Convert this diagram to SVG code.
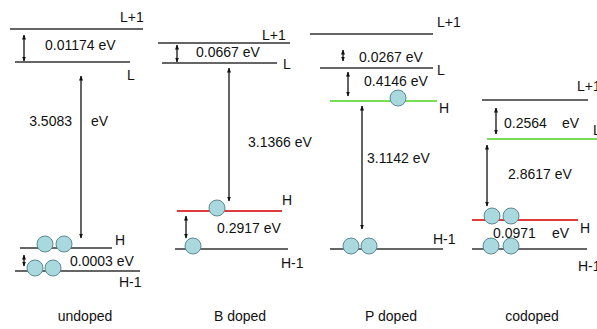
<svg xmlns="http://www.w3.org/2000/svg" width="597" height="329" viewBox="0 0 597 329">
<style>
text{font-family:"Liberation Sans",Arial,sans-serif;font-size:14px;fill:#111}
.lv{stroke:#333;stroke-width:1.6}
.red{stroke:#e03a3a;stroke-width:2}
.grn{stroke:#77dd55;stroke-width:2.2}
.ar{stroke:#111;stroke-width:1.3;fill:none;marker-start:url(#ah);marker-end:url(#ah)}
.e{fill:#a9d9de;stroke:#5b8a93;stroke-width:1}
</style>
<defs>
<marker id="ah" viewBox="0 0 10 10" refX="9" refY="5" markerWidth="5" markerHeight="5" markerUnits="userSpaceOnUse" orient="auto-start-reverse">
<path d="M0,1 L10,5 L0,9 z" fill="#111"/>
</marker>
</defs>
<rect width="597" height="329" fill="#fff"/>
<g id="connectors">
<line class="ar" x1="24" y1="35" x2="24" y2="61"/>
<line class="ar" x1="81" y1="76" x2="81" y2="238"/>
<line class="ar" x1="24" y1="255" x2="24" y2="266"/>
<line class="ar" x1="177" y1="45" x2="177" y2="62"/>
<line class="ar" x1="229" y1="68" x2="229" y2="201"/>
<line class="ar" x1="186" y1="216" x2="186" y2="238"/>
<line class="ar" x1="343" y1="50" x2="343" y2="61"/>
<line class="ar" x1="348" y1="72" x2="348" y2="96"/>
<line class="ar" x1="362" y1="106" x2="362" y2="229"/>
<line class="ar" x1="496" y1="108" x2="496" y2="134"/>
<line class="ar" x1="487" y1="145" x2="487" y2="206"/>
</g>
<g id="undoped">
<line class="lv" x1="10" y1="29" x2="143" y2="29"/>
<text x="120" y="22">L+1</text>
<text x="45" y="50">0.01174 eV</text>
<line class="lv" x1="15" y1="62" x2="130" y2="62"/>
<text x="127" y="80">L</text>
<text x="72" y="126" text-anchor="end">3.5083</text>
<text x="91" y="126">eV</text>
<line class="lv" x1="20" y1="248" x2="112" y2="248"/>
<circle class="e" cx="45" cy="244" r="8"/>
<circle class="e" cx="64" cy="244" r="8"/>
<text x="115" y="245">H</text>
<line class="lv" x1="15" y1="271" x2="140" y2="271"/>
<circle class="e" cx="35" cy="268" r="8"/>
<circle class="e" cx="53" cy="268" r="8"/>
<text x="70" y="266">0.0003 eV</text>
<text x="119" y="287">H-1</text>
<text x="85" y="321" text-anchor="middle">undoped</text>
</g>
<g id="b-doped">
<line class="lv" x1="158" y1="43" x2="290" y2="43"/>
<text x="262" y="40">L+1</text>
<text x="196" y="57">0.0667 eV</text>
<line class="lv" x1="162" y1="63" x2="277" y2="63"/>
<text x="283" y="69">L</text>
<text x="248" y="147">3.1366 eV</text>
<line class="red" x1="177" y1="211" x2="282" y2="211"/>
<circle class="e" cx="217" cy="208" r="8"/>
<text x="282" y="205">H</text>
<text x="217" y="233">0.2917 eV</text>
<line class="lv" x1="175" y1="249" x2="288" y2="249"/>
<circle class="e" cx="193" cy="246" r="8"/>
<text x="281" y="268">H-1</text>
<text x="240" y="321" text-anchor="middle">B doped</text>
</g>
<g id="p-doped">
<line class="lv" x1="310" y1="34" x2="433" y2="34"/>
<text x="437" y="27">L+1</text>
<text x="359" y="62">0.0267 eV</text>
<line class="lv" x1="320" y1="68" x2="433" y2="68"/>
<text x="437" y="75">L</text>
<text x="364" y="86">0.4146 eV</text>
<line class="grn" x1="330" y1="101" x2="437" y2="101"/>
<circle class="e" cx="398" cy="98" r="8"/>
<text x="439" y="113">H</text>
<text x="367" y="163">3.1142 eV</text>
<line class="lv" x1="330" y1="249" x2="443" y2="249"/>
<circle class="e" cx="351" cy="246" r="8"/>
<circle class="e" cx="369" cy="246" r="8"/>
<text x="433" y="244">H-1</text>
<text x="391" y="321" text-anchor="middle">P doped</text>
</g>
<g id="codoped">
<line class="lv" x1="482" y1="100" x2="588" y2="100"/>
<text x="577" y="91">L+1</text>
<text x="504" y="128">0.2564</text>
<text x="562" y="128">eV</text>
<line class="grn" x1="487" y1="139" x2="597" y2="139"/>
<text x="593" y="135">L</text>
<text x="508" y="179">2.8617 eV</text>
<line class="red" x1="472" y1="220" x2="578" y2="220"/>
<circle class="e" cx="492" cy="216" r="8"/>
<circle class="e" cx="511" cy="216" r="8"/>
<text x="580" y="233">H</text>
<text x="493" y="238">0.0971</text>
<text x="552" y="238">eV</text>
<line class="lv" x1="472" y1="249" x2="587" y2="249"/>
<circle class="e" cx="491" cy="246" r="8"/>
<circle class="e" cx="511" cy="246" r="8"/>
<text x="578" y="271">H-1</text>
<text x="532" y="321" text-anchor="middle">codoped</text>
</g>
</svg>
